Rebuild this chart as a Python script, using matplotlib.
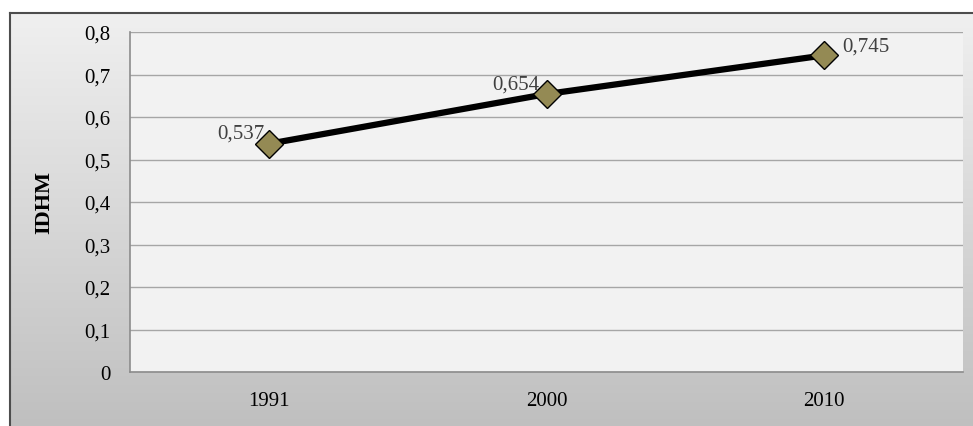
import numpy as np
import matplotlib
matplotlib.use("Agg")
import matplotlib.pyplot as plt

# data
years = ["1991", "2000", "2010"]
idhm = [0.537, 0.654, 0.745]
labels = ["0,537", "0,654", "0,745"]
yticks = [0, 0.1, 0.2, 0.3, 0.4, 0.5, 0.6, 0.7, 0.8]
ytick_labels = ["0", "0,1", "0,2", "0,3", "0,4", "0,5", "0,6", "0,7", "0,8"]

W, H = 973, 427
plt.rcParams['font.family'] = ['Liberation Serif', 'DejaVu Serif']

fig = plt.figure(figsize=(W / 100, H / 100), dpi=100)
fig.patch.set_facecolor("white")

# outer chart area with grey gradient
bg = fig.add_axes([10 / W, 0, (W - 10) / W, (H - 14) / H])
grad = np.linspace(0.94, 0.75, 256).reshape(-1, 1)
bg.imshow(np.dstack([grad, grad, grad]), aspect="auto", extent=[0, 1, 0, 1])
bg.set_xlim(0, 1)
bg.set_ylim(0, 1)
bg.set_xticks([])
bg.set_yticks([])
for s in ["right", "bottom"]:
    bg.spines[s].set_visible(False)
for s in ["left", "top"]:
    bg.spines[s].set_color("#4d4d4d")
    bg.spines[s].set_linewidth(1.5)

# plot area
ax = fig.add_axes([130 / W, (H - 373) / H, 833 / W, 340 / H])
ax.set_facecolor("#f2f2f2")
x = np.arange(len(years))
ax.set_xlim(-0.5, len(years) - 0.5)
ax.set_ylim(0, 0.8)
ax.set_yticks(yticks)
ax.set_yticklabels(ytick_labels)
ax.set_xticks(x)
ax.set_xticklabels(years)
ax.tick_params(length=0, labelsize=15, colors="#000000")
ax.tick_params(axis="y", pad=14)
ax.tick_params(axis="x", pad=14)
ax.grid(axis="y", color="#a6a6a6", lw=1)
ax.set_axisbelow(True)
for s in ["top", "right"]:
    ax.spines[s].set_visible(False)
for s in ["left", "bottom"]:
    ax.spines[s].set_color("#8c8c8c")
    ax.spines[s].set_linewidth(1.2)

ax.plot(x, idhm, color="black", lw=4.5, marker="D", markersize=14,
        markerfacecolor="#948a54", markeredgecolor="black", markeredgewidth=1,
        zorder=3)

offsets = [(-3, 8), (-5, 7), (13, 7)]
aligns = ["right", "right", "left"]
for xi, yi, lab, off, ha in zip(x, idhm, labels, offsets, aligns):
    ax.annotate(lab, (xi, yi), xytext=off, textcoords="offset points",
                ha=ha, va="center", fontsize=15, color="#404040")

ax.set_ylabel("IDHM", fontsize=16, fontweight="bold", labelpad=22)

fig.savefig("out.png", dpi=100)
